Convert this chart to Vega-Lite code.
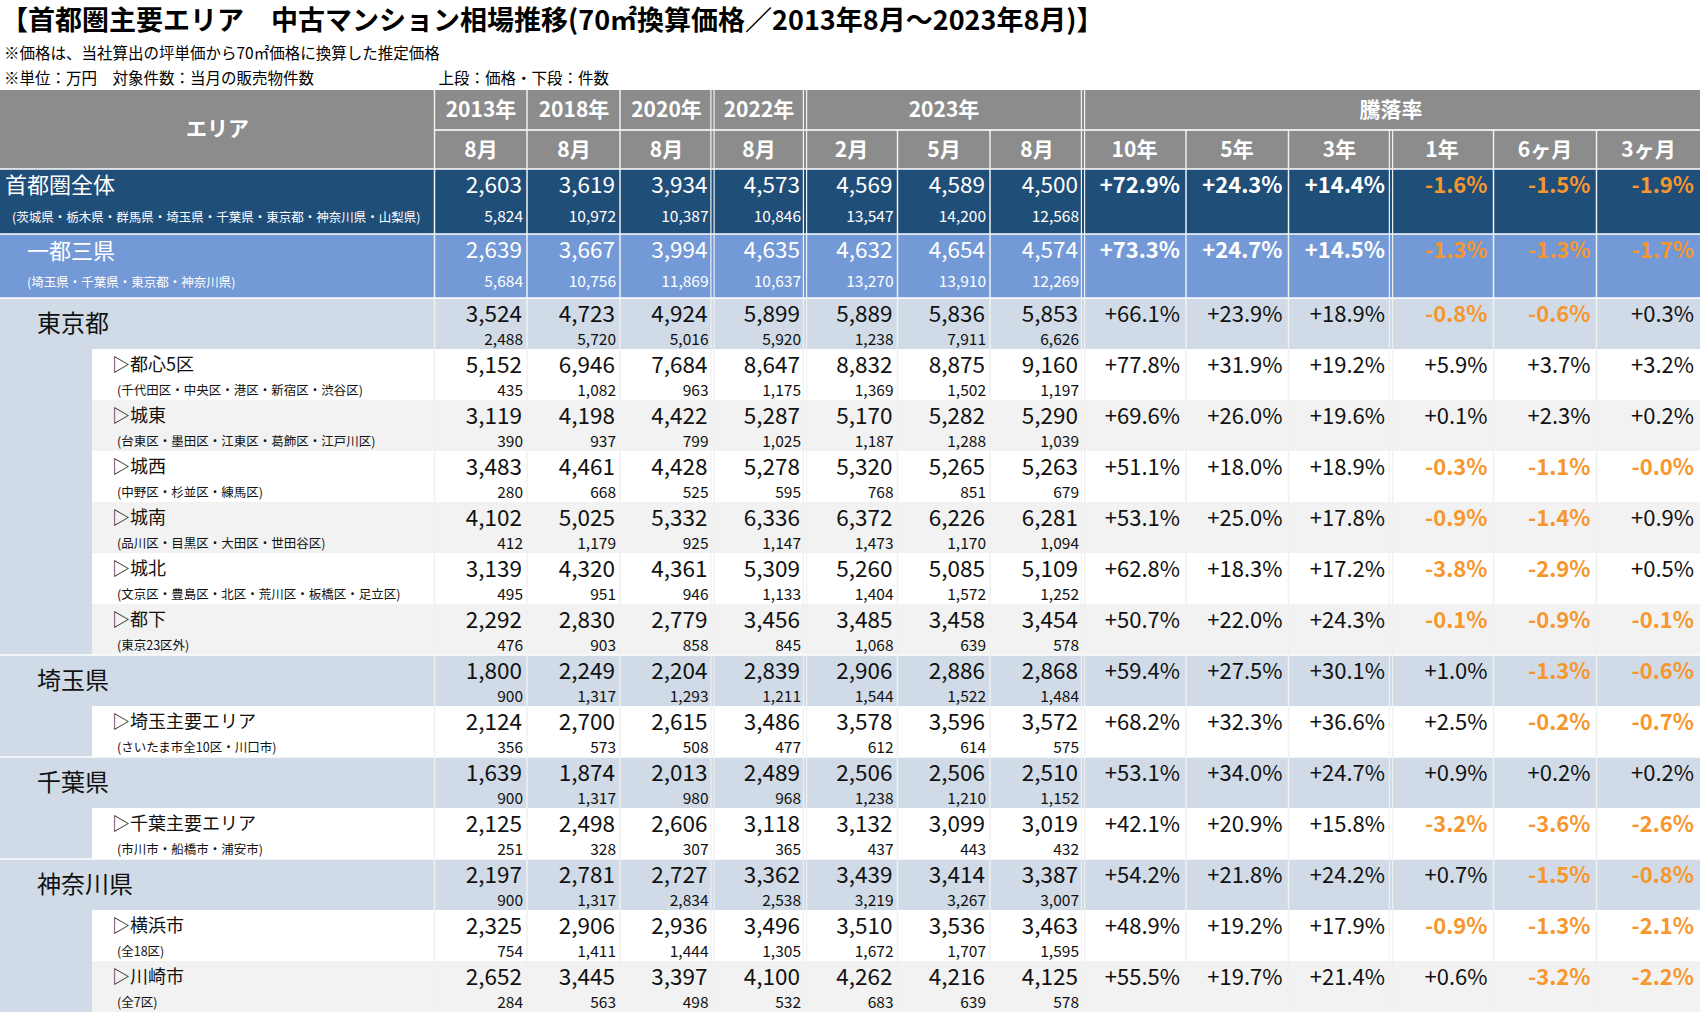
{
  "$schema": "https://vega.github.io/schema/vega-lite/v6.json",
  "width": 1702,
  "height": 1012,
  "autosize": {"type": "none"},
  "padding": 0,
  "background": "#ffffff",
  "config": {
    "view": {"stroke": null},
    "axis": {"disable": true},
    "font": "Noto Sans CJK JP",
    "locale": {"number": {"decimal": ".", "thousands": ",", "grouping": [3], "currency": ["", ""], "minus": "-"}}
  },
  "datasets": {
    "areas": [
      {"area": "首都圏全体", "note": "(茨城県・栃木県・群馬県・埼玉県・千葉県・東京都・神奈川県・山梨県)", "lvl": 0, "r": 0},
      {"area": "一都三県", "note": "(埼玉県・千葉県・東京都・神奈川県)", "lvl": 1, "r": 1},
      {"area": "東京都", "note": "", "lvl": 2, "r": 2},
      {"area": "▷都心5区", "note": "(千代田区・中央区・港区・新宿区・渋谷区)", "lvl": 3, "r": 3},
      {"area": "▷城東", "note": "(台東区・墨田区・江東区・葛飾区・江戸川区)", "lvl": 3, "r": 4},
      {"area": "▷城西", "note": "(中野区・杉並区・練馬区)", "lvl": 3, "r": 5},
      {"area": "▷城南", "note": "(品川区・目黒区・大田区・世田谷区)", "lvl": 3, "r": 6},
      {"area": "▷城北", "note": "(文京区・豊島区・北区・荒川区・板橋区・足立区)", "lvl": 3, "r": 7},
      {"area": "▷都下", "note": "(東京23区外)", "lvl": 3, "r": 8},
      {"area": "埼玉県", "note": "", "lvl": 2, "r": 9},
      {"area": "▷埼玉主要エリア", "note": "(さいたま市全10区・川口市)", "lvl": 3, "r": 10},
      {"area": "千葉県", "note": "", "lvl": 2, "r": 11},
      {"area": "▷千葉主要エリア", "note": "(市川市・船橋市・浦安市)", "lvl": 3, "r": 12},
      {"area": "神奈川県", "note": "", "lvl": 2, "r": 13},
      {"area": "▷横浜市", "note": "(全18区)", "lvl": 3, "r": 14},
      {"area": "▷川崎市", "note": "(全7区)", "lvl": 3, "r": 15}
    ],
    "columns": [
      {"key": "エリア", "c": 0, "group": "エリア", "head": "エリア"},
      {"key": "2013年8月", "c": 1, "group": "2013年", "head": "8月"},
      {"key": "2018年8月", "c": 2, "group": "2018年", "head": "8月"},
      {"key": "2020年8月", "c": 3, "group": "2020年", "head": "8月"},
      {"key": "2022年8月", "c": 4, "group": "2022年", "head": "8月"},
      {"key": "2023年2月", "c": 5, "group": "2023年", "head": "2月"},
      {"key": "2023年5月", "c": 6, "group": "2023年", "head": "5月"},
      {"key": "2023年8月", "c": 7, "group": "2023年", "head": "8月"},
      {"key": "10年", "c": 8, "group": "騰落率", "head": "10年"},
      {"key": "5年", "c": 9, "group": "騰落率", "head": "5年"},
      {"key": "3年", "c": 10, "group": "騰落率", "head": "3年"},
      {"key": "1年", "c": 11, "group": "騰落率", "head": "1年"},
      {"key": "6ヶ月", "c": 12, "group": "騰落率", "head": "6ヶ月"},
      {"key": "3ヶ月", "c": 13, "group": "騰落率", "head": "3ヶ月"}
    ],
    "prices": [
      {"area": "首都圏全体", "2013年8月": 2603, "2018年8月": 3619, "2020年8月": 3934, "2022年8月": 4573, "2023年2月": 4569, "2023年5月": 4589, "2023年8月": 4500},
      {"area": "一都三県", "2013年8月": 2639, "2018年8月": 3667, "2020年8月": 3994, "2022年8月": 4635, "2023年2月": 4632, "2023年5月": 4654, "2023年8月": 4574},
      {"area": "東京都", "2013年8月": 3524, "2018年8月": 4723, "2020年8月": 4924, "2022年8月": 5899, "2023年2月": 5889, "2023年5月": 5836, "2023年8月": 5853},
      {"area": "▷都心5区", "2013年8月": 5152, "2018年8月": 6946, "2020年8月": 7684, "2022年8月": 8647, "2023年2月": 8832, "2023年5月": 8875, "2023年8月": 9160},
      {"area": "▷城東", "2013年8月": 3119, "2018年8月": 4198, "2020年8月": 4422, "2022年8月": 5287, "2023年2月": 5170, "2023年5月": 5282, "2023年8月": 5290},
      {"area": "▷城西", "2013年8月": 3483, "2018年8月": 4461, "2020年8月": 4428, "2022年8月": 5278, "2023年2月": 5320, "2023年5月": 5265, "2023年8月": 5263},
      {"area": "▷城南", "2013年8月": 4102, "2018年8月": 5025, "2020年8月": 5332, "2022年8月": 6336, "2023年2月": 6372, "2023年5月": 6226, "2023年8月": 6281},
      {"area": "▷城北", "2013年8月": 3139, "2018年8月": 4320, "2020年8月": 4361, "2022年8月": 5309, "2023年2月": 5260, "2023年5月": 5085, "2023年8月": 5109},
      {"area": "▷都下", "2013年8月": 2292, "2018年8月": 2830, "2020年8月": 2779, "2022年8月": 3456, "2023年2月": 3485, "2023年5月": 3458, "2023年8月": 3454},
      {"area": "埼玉県", "2013年8月": 1800, "2018年8月": 2249, "2020年8月": 2204, "2022年8月": 2839, "2023年2月": 2906, "2023年5月": 2886, "2023年8月": 2868},
      {"area": "▷埼玉主要エリア", "2013年8月": 2124, "2018年8月": 2700, "2020年8月": 2615, "2022年8月": 3486, "2023年2月": 3578, "2023年5月": 3596, "2023年8月": 3572},
      {"area": "千葉県", "2013年8月": 1639, "2018年8月": 1874, "2020年8月": 2013, "2022年8月": 2489, "2023年2月": 2506, "2023年5月": 2506, "2023年8月": 2510},
      {"area": "▷千葉主要エリア", "2013年8月": 2125, "2018年8月": 2498, "2020年8月": 2606, "2022年8月": 3118, "2023年2月": 3132, "2023年5月": 3099, "2023年8月": 3019},
      {"area": "神奈川県", "2013年8月": 2197, "2018年8月": 2781, "2020年8月": 2727, "2022年8月": 3362, "2023年2月": 3439, "2023年5月": 3414, "2023年8月": 3387},
      {"area": "▷横浜市", "2013年8月": 2325, "2018年8月": 2906, "2020年8月": 2936, "2022年8月": 3496, "2023年2月": 3510, "2023年5月": 3536, "2023年8月": 3463},
      {"area": "▷川崎市", "2013年8月": 2652, "2018年8月": 3445, "2020年8月": 3397, "2022年8月": 4100, "2023年2月": 4262, "2023年5月": 4216, "2023年8月": 4125}
    ],
    "counts": [
      {"area": "首都圏全体", "2013年8月": 5824, "2018年8月": 10972, "2020年8月": 10387, "2022年8月": 10846, "2023年2月": 13547, "2023年5月": 14200, "2023年8月": 12568},
      {"area": "一都三県", "2013年8月": 5684, "2018年8月": 10756, "2020年8月": 11869, "2022年8月": 10637, "2023年2月": 13270, "2023年5月": 13910, "2023年8月": 12269},
      {"area": "東京都", "2013年8月": 2488, "2018年8月": 5720, "2020年8月": 5016, "2022年8月": 5920, "2023年2月": 1238, "2023年5月": 7911, "2023年8月": 6626},
      {"area": "▷都心5区", "2013年8月": 435, "2018年8月": 1082, "2020年8月": 963, "2022年8月": 1175, "2023年2月": 1369, "2023年5月": 1502, "2023年8月": 1197},
      {"area": "▷城東", "2013年8月": 390, "2018年8月": 937, "2020年8月": 799, "2022年8月": 1025, "2023年2月": 1187, "2023年5月": 1288, "2023年8月": 1039},
      {"area": "▷城西", "2013年8月": 280, "2018年8月": 668, "2020年8月": 525, "2022年8月": 595, "2023年2月": 768, "2023年5月": 851, "2023年8月": 679},
      {"area": "▷城南", "2013年8月": 412, "2018年8月": 1179, "2020年8月": 925, "2022年8月": 1147, "2023年2月": 1473, "2023年5月": 1170, "2023年8月": 1094},
      {"area": "▷城北", "2013年8月": 495, "2018年8月": 951, "2020年8月": 946, "2022年8月": 1133, "2023年2月": 1404, "2023年5月": 1572, "2023年8月": 1252},
      {"area": "▷都下", "2013年8月": 476, "2018年8月": 903, "2020年8月": 858, "2022年8月": 845, "2023年2月": 1068, "2023年5月": 639, "2023年8月": 578},
      {"area": "埼玉県", "2013年8月": 900, "2018年8月": 1317, "2020年8月": 1293, "2022年8月": 1211, "2023年2月": 1544, "2023年5月": 1522, "2023年8月": 1484},
      {"area": "▷埼玉主要エリア", "2013年8月": 356, "2018年8月": 573, "2020年8月": 508, "2022年8月": 477, "2023年2月": 612, "2023年5月": 614, "2023年8月": 575},
      {"area": "千葉県", "2013年8月": 900, "2018年8月": 1317, "2020年8月": 980, "2022年8月": 968, "2023年2月": 1238, "2023年5月": 1210, "2023年8月": 1152},
      {"area": "▷千葉主要エリア", "2013年8月": 251, "2018年8月": 328, "2020年8月": 307, "2022年8月": 365, "2023年2月": 437, "2023年5月": 443, "2023年8月": 432},
      {"area": "神奈川県", "2013年8月": 900, "2018年8月": 1317, "2020年8月": 2834, "2022年8月": 2538, "2023年2月": 3219, "2023年5月": 3267, "2023年8月": 3007},
      {"area": "▷横浜市", "2013年8月": 754, "2018年8月": 1411, "2020年8月": 1444, "2022年8月": 1305, "2023年2月": 1672, "2023年5月": 1707, "2023年8月": 1595},
      {"area": "▷川崎市", "2013年8月": 284, "2018年8月": 563, "2020年8月": 498, "2022年8月": 532, "2023年2月": 683, "2023年5月": 639, "2023年8月": 578}
    ],
    "rates": [
      {"area": "首都圏全体", "10年": 0.729, "5年": 0.243, "3年": 0.144, "1年": -0.016, "6ヶ月": -0.015, "3ヶ月": -0.019},
      {"area": "一都三県", "10年": 0.733, "5年": 0.247, "3年": 0.145, "1年": -0.013, "6ヶ月": -0.013, "3ヶ月": -0.017},
      {"area": "東京都", "10年": 0.661, "5年": 0.239, "3年": 0.189, "1年": -0.008, "6ヶ月": -0.006, "3ヶ月": 0.003},
      {"area": "▷都心5区", "10年": 0.778, "5年": 0.319, "3年": 0.192, "1年": 0.059, "6ヶ月": 0.037, "3ヶ月": 0.032},
      {"area": "▷城東", "10年": 0.696, "5年": 0.26, "3年": 0.196, "1年": 0.001, "6ヶ月": 0.023, "3ヶ月": 0.002},
      {"area": "▷城西", "10年": 0.511, "5年": 0.18, "3年": 0.189, "1年": -0.003, "6ヶ月": -0.011, "3ヶ月": -0.0003},
      {"area": "▷城南", "10年": 0.531, "5年": 0.25, "3年": 0.178, "1年": -0.009, "6ヶ月": -0.014, "3ヶ月": 0.009},
      {"area": "▷城北", "10年": 0.628, "5年": 0.183, "3年": 0.172, "1年": -0.038, "6ヶ月": -0.029, "3ヶ月": 0.005},
      {"area": "▷都下", "10年": 0.507, "5年": 0.22, "3年": 0.243, "1年": -0.001, "6ヶ月": -0.009, "3ヶ月": -0.001},
      {"area": "埼玉県", "10年": 0.594, "5年": 0.275, "3年": 0.301, "1年": 0.01, "6ヶ月": -0.013, "3ヶ月": -0.006},
      {"area": "▷埼玉主要エリア", "10年": 0.682, "5年": 0.323, "3年": 0.366, "1年": 0.025, "6ヶ月": -0.002, "3ヶ月": -0.007},
      {"area": "千葉県", "10年": 0.531, "5年": 0.34, "3年": 0.247, "1年": 0.009, "6ヶ月": 0.002, "3ヶ月": 0.002},
      {"area": "▷千葉主要エリア", "10年": 0.421, "5年": 0.209, "3年": 0.158, "1年": -0.032, "6ヶ月": -0.036, "3ヶ月": -0.026},
      {"area": "神奈川県", "10年": 0.542, "5年": 0.218, "3年": 0.242, "1年": 0.007, "6ヶ月": -0.015, "3ヶ月": -0.008},
      {"area": "▷横浜市", "10年": 0.489, "5年": 0.192, "3年": 0.179, "1年": -0.009, "6ヶ月": -0.013, "3ヶ月": -0.021},
      {"area": "▷川崎市", "10年": 0.555, "5年": 0.197, "3年": 0.214, "1年": 0.006, "6ヶ月": -0.032, "3ヶ月": -0.022}
    ]
  },
  "layer": [
    {
      "data": {"values": [{"part": "header"}]},
      "mark": {"type": "rect", "color": "#8c8c8c"},
      "encoding": {
        "x": {"datum": -2, "type": "quantitative", "axis": null, "scale": {"type": "linear", "domain": [-2, -1, 0, 1, 2, 3, 4, 5, 6, 7, 8, 9, 10, 11, 12, 13], "range": [0, 92, 434.5, 527, 620, 712.5, 805, 897.5, 990, 1083, 1186, 1288.5, 1391, 1493.5, 1596.5, 1700], "nice": false, "zero": false}},
        "x2": {"datum": 13},
        "y": {"datum": -2, "type": "quantitative", "axis": null, "scale": {"type": "linear", "domain": [-3, -2, -1, 0, 1, 2, 16], "range": [0, 90, 130, 169, 234, 298, 1012], "nice": false, "zero": false}},
        "y2": {"datum": 0}
      }
    },
    {
      "data": {"name": "areas"},
      "transform": [{"filter": "datum.lvl == 0"}],
      "mark": {"type": "rect", "color": "#1f4e79"},
      "encoding": {"x": {"datum": -2, "type": "quantitative"}, "x2": {"datum": 13}, "y": {"field": "r", "type": "quantitative"}, "y2": {"datum": 1}}
    },
    {
      "data": {"name": "areas"},
      "transform": [{"filter": "datum.lvl == 1"}],
      "mark": {"type": "rect", "color": "#7399d6"},
      "encoding": {"x": {"datum": -2, "type": "quantitative"}, "x2": {"datum": 13}, "y": {"field": "r", "type": "quantitative"}, "y2": {"datum": 2}}
    },
    {
      "data": {"name": "areas"},
      "transform": [{"filter": "datum.lvl >= 2"}],
      "mark": {"type": "rect", "color": "#d0dbe7", "y2Offset": 51},
      "encoding": {"x": {"datum": -2, "type": "quantitative"}, "x2": {"datum": 13}, "y": {"field": "r", "type": "quantitative"}, "y2": {"field": "r"}}
    },
    {
      "data": {"name": "areas"},
      "transform": [{"filter": "datum.lvl == 3"}],
      "mark": {"type": "rect", "y2Offset": 51},
      "encoding": {
        "x": {"datum": -1, "type": "quantitative"}, "x2": {"datum": 13},
        "y": {"field": "r", "type": "quantitative"}, "y2": {"field": "r"},
        "color": {"condition": {"test": "indexof(['▷城東','▷城南','▷都下','▷川崎市'], datum.area) >= 0", "value": "#f2f2f2"}, "value": "#ffffff"}
      }
    },
    {
      "data": {"name": "areas"},
      "transform": [{"filter": "datum.lvl <= 2"}],
      "mark": {"type": "rule", "color": "#ffffff", "strokeWidth": 1.5},
      "encoding": {"x": {"datum": -2, "type": "quantitative"}, "x2": {"datum": 13}, "y": {"field": "r", "type": "quantitative"}}
    },
    {
      "data": {"values": [{"part": "header split"}]},
      "mark": {"type": "rule", "color": "#e6e6e6", "strokeWidth": 2},
      "encoding": {"x": {"datum": 0, "type": "quantitative"}, "x2": {"datum": 13}, "y": {"datum": -1, "type": "quantitative"}}
    },
    {
      "data": {"name": "columns"},
      "transform": [{"filter": "indexof([0,1,2], datum.c) >= 0"}],
      "mark": {"type": "rule", "color": "#f0f0f0", "strokeWidth": 1.5},
      "encoding": {"x": {"field": "c", "type": "quantitative"}, "y": {"datum": -2, "type": "quantitative"}, "y2": {"datum": 16}}
    },
    {
      "data": {"name": "columns"},
      "transform": [{"filter": "indexof([5,6,8,9,11,12], datum.c) >= 0"}],
      "mark": {"type": "rule", "color": "#f0f0f0", "strokeWidth": 1.5},
      "encoding": {"x": {"field": "c", "type": "quantitative"}, "y": {"datum": -1, "type": "quantitative"}, "y2": {"datum": 16}}
    },
    {
      "data": {"name": "columns"},
      "transform": [{"filter": "indexof([3,4,7], datum.c) >= 0"}],
      "mark": {"type": "rule", "color": "#f0f0f0", "strokeWidth": 1.2, "xOffset": -1.6},
      "encoding": {"x": {"field": "c", "type": "quantitative"}, "y": {"datum": -2, "type": "quantitative"}, "y2": {"datum": 16}}
    },
    {
      "data": {"name": "columns"},
      "transform": [{"filter": "indexof([3,4,7], datum.c) >= 0"}],
      "mark": {"type": "rule", "color": "#f0f0f0", "strokeWidth": 1.2, "xOffset": 1.6},
      "encoding": {"x": {"field": "c", "type": "quantitative"}, "y": {"datum": -2, "type": "quantitative"}, "y2": {"datum": 16}}
    },
    {
      "data": {"name": "columns"},
      "transform": [{"filter": "datum.c == 10"}],
      "mark": {"type": "rule", "color": "#f0f0f0", "strokeWidth": 1.2, "xOffset": -1.6},
      "encoding": {"x": {"field": "c", "type": "quantitative"}, "y": {"datum": -1, "type": "quantitative"}, "y2": {"datum": 16}}
    },
    {
      "data": {"name": "columns"},
      "transform": [{"filter": "datum.c == 10"}],
      "mark": {"type": "rule", "color": "#f0f0f0", "strokeWidth": 1.2, "xOffset": 1.6},
      "encoding": {"x": {"field": "c", "type": "quantitative"}, "y": {"datum": -1, "type": "quantitative"}, "y2": {"datum": 16}}
    },
    {
      "data": {"name": "columns"},
      "transform": [{"filter": "datum.c == 0"}],
      "mark": {"type": "text", "align": "center", "baseline": "middle", "dx": -217, "fontSize": 21, "fontWeight": "bold", "fill": "#ffffff"},
      "encoding": {"x": {"field": "c", "type": "quantitative"}, "y": {"datum": -1, "type": "quantitative"}, "text": {"field": "head"}}
    },
    {
      "data": {"name": "columns"},
      "transform": [{"filter": "(datum.c >= 1 && datum.c <= 4) || datum.c == 6"}],
      "mark": {"type": "text", "align": "center", "baseline": "middle", "dx": -46, "dy": 20.5, "fontSize": 21, "fontWeight": "bold", "fill": "#ffffff"},
      "encoding": {"x": {"field": "c", "type": "quantitative"}, "y": {"datum": -2, "type": "quantitative"}, "text": {"field": "group"}}
    },
    {
      "data": {"name": "columns"},
      "transform": [{"filter": "datum.c == 10"}],
      "mark": {"type": "text", "align": "center", "baseline": "middle", "dy": 20.5, "fontSize": 21, "fontWeight": "bold", "fill": "#ffffff"},
      "encoding": {"x": {"field": "c", "type": "quantitative"}, "y": {"datum": -2, "type": "quantitative"}, "text": {"field": "group"}}
    },
    {
      "data": {"name": "columns"},
      "transform": [{"filter": "datum.c >= 1 && datum.c <= 7"}],
      "mark": {"type": "text", "align": "center", "baseline": "middle", "dx": -46, "dy": 20.5, "fontSize": 21, "fontWeight": "bold", "fill": "#ffffff"},
      "encoding": {"x": {"field": "c", "type": "quantitative"}, "y": {"datum": -1, "type": "quantitative"}, "text": {"field": "head"}}
    },
    {
      "data": {"name": "columns"},
      "transform": [{"filter": "datum.c >= 8"}],
      "mark": {"type": "text", "align": "center", "baseline": "middle", "dx": -51.5, "dy": 20.5, "fontSize": 21, "fontWeight": "bold", "fill": "#ffffff"},
      "encoding": {"x": {"field": "c", "type": "quantitative"}, "y": {"datum": -1, "type": "quantitative"}, "text": {"field": "head"}}
    },
    {
      "data": {"name": "prices"},
      "transform": [
        {"fold": ["2013年8月", "2018年8月", "2020年8月", "2022年8月", "2023年2月", "2023年5月", "2023年8月"], "as": ["key", "value"]},
        {"lookup": "key", "from": {"data": {"name": "columns"}, "key": "key", "fields": ["c"]}},
        {"lookup": "area", "from": {"data": {"name": "areas"}, "key": "area", "fields": ["r", "lvl"]}},
        {"filter": "datum.lvl <= 1"}
      ],
      "mark": {"type": "text", "align": "right", "baseline": "middle", "dx": -5, "dy": 17, "fontSize": 22.5, "fill": "#ffffff"},
      "encoding": {"x": {"field": "c", "type": "quantitative"}, "y": {"field": "r", "type": "quantitative"}, "text": {"field": "value", "type": "quantitative", "format": ","}}
    },
    {
      "data": {"name": "prices"},
      "transform": [
        {"fold": ["2013年8月", "2018年8月", "2020年8月", "2022年8月", "2023年2月", "2023年5月", "2023年8月"], "as": ["key", "value"]},
        {"lookup": "key", "from": {"data": {"name": "columns"}, "key": "key", "fields": ["c"]}},
        {"lookup": "area", "from": {"data": {"name": "areas"}, "key": "area", "fields": ["r", "lvl"]}},
        {"filter": "datum.lvl >= 2"}
      ],
      "mark": {"type": "text", "align": "right", "baseline": "middle", "dx": -5, "dy": 17, "fontSize": 22.5, "fill": "#111111"},
      "encoding": {"x": {"field": "c", "type": "quantitative"}, "y": {"field": "r", "type": "quantitative"}, "text": {"field": "value", "type": "quantitative", "format": ","}}
    },
    {
      "data": {"name": "counts"},
      "transform": [
        {"fold": ["2013年8月", "2018年8月", "2020年8月", "2022年8月", "2023年2月", "2023年5月", "2023年8月"], "as": ["key", "value"]},
        {"lookup": "key", "from": {"data": {"name": "columns"}, "key": "key", "fields": ["c"]}},
        {"lookup": "area", "from": {"data": {"name": "areas"}, "key": "area", "fields": ["r", "lvl"]}},
        {"filter": "datum.lvl <= 1"}
      ],
      "mark": {"type": "text", "align": "right", "baseline": "middle", "dx": -4, "dy": 48, "fontSize": 15.5, "fill": "#ffffff"},
      "encoding": {"x": {"field": "c", "type": "quantitative"}, "y": {"field": "r", "type": "quantitative"}, "text": {"field": "value", "type": "quantitative", "format": ","}}
    },
    {
      "data": {"name": "counts"},
      "transform": [
        {"fold": ["2013年8月", "2018年8月", "2020年8月", "2022年8月", "2023年2月", "2023年5月", "2023年8月"], "as": ["key", "value"]},
        {"lookup": "key", "from": {"data": {"name": "columns"}, "key": "key", "fields": ["c"]}},
        {"lookup": "area", "from": {"data": {"name": "areas"}, "key": "area", "fields": ["r", "lvl"]}},
        {"filter": "datum.lvl >= 2"}
      ],
      "mark": {"type": "text", "align": "right", "baseline": "middle", "dx": -4, "dy": 42, "fontSize": 15.5, "fill": "#111111"},
      "encoding": {"x": {"field": "c", "type": "quantitative"}, "y": {"field": "r", "type": "quantitative"}, "text": {"field": "value", "type": "quantitative", "format": ","}}
    },
    {
      "data": {"name": "rates"},
      "transform": [
        {"fold": ["10年", "5年", "3年", "1年", "6ヶ月", "3ヶ月"], "as": ["key", "value"]},
        {"lookup": "key", "from": {"data": {"name": "columns"}, "key": "key", "fields": ["c"]}},
        {"lookup": "area", "from": {"data": {"name": "areas"}, "key": "area", "fields": ["r", "lvl"]}},
        {"filter": "datum.lvl <= 1 && datum.value >= 0"}
      ],
      "mark": {"type": "text", "align": "right", "baseline": "middle", "dx": -6, "dy": 17, "fontSize": 22, "fontWeight": "bold", "fill": "#ffffff"},
      "encoding": {"x": {"field": "c", "type": "quantitative"}, "y": {"field": "r", "type": "quantitative"}, "text": {"field": "value", "type": "quantitative", "format": "+.1%"}}
    },
    {
      "data": {"name": "rates"},
      "transform": [
        {"fold": ["10年", "5年", "3年", "1年", "6ヶ月", "3ヶ月"], "as": ["key", "value"]},
        {"lookup": "key", "from": {"data": {"name": "columns"}, "key": "key", "fields": ["c"]}},
        {"lookup": "area", "from": {"data": {"name": "areas"}, "key": "area", "fields": ["r", "lvl"]}},
        {"filter": "datum.lvl <= 1 && datum.value < 0"}
      ],
      "mark": {"type": "text", "align": "right", "baseline": "middle", "dx": -6, "dy": 17, "fontSize": 22, "fontWeight": "bold", "fill": "#f7962d"},
      "encoding": {"x": {"field": "c", "type": "quantitative"}, "y": {"field": "r", "type": "quantitative"}, "text": {"field": "value", "type": "quantitative", "format": "+.1%"}}
    },
    {
      "data": {"name": "rates"},
      "transform": [
        {"fold": ["10年", "5年", "3年", "1年", "6ヶ月", "3ヶ月"], "as": ["key", "value"]},
        {"lookup": "key", "from": {"data": {"name": "columns"}, "key": "key", "fields": ["c"]}},
        {"lookup": "area", "from": {"data": {"name": "areas"}, "key": "area", "fields": ["r", "lvl"]}},
        {"filter": "datum.lvl >= 2 && datum.value >= 0"}
      ],
      "mark": {"type": "text", "align": "right", "baseline": "middle", "dx": -6, "dy": 17, "fontSize": 22, "fill": "#111111"},
      "encoding": {"x": {"field": "c", "type": "quantitative"}, "y": {"field": "r", "type": "quantitative"}, "text": {"field": "value", "type": "quantitative", "format": "+.1%"}}
    },
    {
      "data": {"name": "rates"},
      "transform": [
        {"fold": ["10年", "5年", "3年", "1年", "6ヶ月", "3ヶ月"], "as": ["key", "value"]},
        {"lookup": "key", "from": {"data": {"name": "columns"}, "key": "key", "fields": ["c"]}},
        {"lookup": "area", "from": {"data": {"name": "areas"}, "key": "area", "fields": ["r", "lvl"]}},
        {"filter": "datum.lvl >= 2 && datum.value < 0"}
      ],
      "mark": {"type": "text", "align": "right", "baseline": "middle", "dx": -6, "dy": 17, "fontSize": 22, "fontWeight": "bold", "fill": "#f7962d"},
      "encoding": {"x": {"field": "c", "type": "quantitative"}, "y": {"field": "r", "type": "quantitative"}, "text": {"field": "value", "type": "quantitative", "format": "+.1%"}}
    },
    {
      "data": {"name": "areas"},
      "transform": [{"filter": "datum.lvl == 0"}],
      "mark": {"type": "text", "align": "left", "baseline": "middle", "dx": 5, "dy": 17, "fontSize": 22, "fill": "#ffffff"},
      "encoding": {"x": {"datum": -2, "type": "quantitative"}, "y": {"field": "r", "type": "quantitative"}, "text": {"field": "area"}}
    },
    {
      "data": {"name": "areas"},
      "transform": [{"filter": "datum.lvl == 1"}],
      "mark": {"type": "text", "align": "left", "baseline": "middle", "dx": 27, "dy": 17.5, "fontSize": 22, "fill": "#ffffff"},
      "encoding": {"x": {"datum": -2, "type": "quantitative"}, "y": {"field": "r", "type": "quantitative"}, "text": {"field": "area"}}
    },
    {
      "data": {"name": "areas"},
      "transform": [{"filter": "datum.lvl == 2"}],
      "mark": {"type": "text", "align": "left", "baseline": "middle", "dx": 37, "dy": 27, "fontSize": 24, "fill": "#111111"},
      "encoding": {"x": {"datum": -2, "type": "quantitative"}, "y": {"field": "r", "type": "quantitative"}, "text": {"field": "area"}}
    },
    {
      "data": {"name": "areas"},
      "transform": [{"filter": "datum.lvl == 3"}],
      "mark": {"type": "text", "align": "left", "baseline": "middle", "dx": 20, "dy": 17, "fontSize": 18, "fill": "#111111"},
      "encoding": {"x": {"datum": -1, "type": "quantitative"}, "y": {"field": "r", "type": "quantitative"}, "text": {"field": "area"}}
    },
    {
      "data": {"name": "areas"},
      "transform": [{"filter": "datum.lvl == 0"}],
      "mark": {"type": "text", "align": "left", "baseline": "middle", "dx": 12, "dy": 48.5, "fontSize": 12.5, "fill": "#ffffff"},
      "encoding": {"x": {"datum": -2, "type": "quantitative"}, "y": {"field": "r", "type": "quantitative"}, "text": {"field": "note"}}
    },
    {
      "data": {"name": "areas"},
      "transform": [{"filter": "datum.lvl == 1"}],
      "mark": {"type": "text", "align": "left", "baseline": "middle", "dx": 27, "dy": 48.5, "fontSize": 12.5, "fill": "#ffffff"},
      "encoding": {"x": {"datum": -2, "type": "quantitative"}, "y": {"field": "r", "type": "quantitative"}, "text": {"field": "note"}}
    },
    {
      "data": {"name": "areas"},
      "transform": [{"filter": "datum.lvl == 3"}],
      "mark": {"type": "text", "align": "left", "baseline": "middle", "dx": 25, "dy": 41.5, "fontSize": 12.5, "fill": "#111111"},
      "encoding": {"x": {"datum": -1, "type": "quantitative"}, "y": {"field": "r", "type": "quantitative"}, "text": {"field": "note"}}
    },
    {
      "data": {"values": [{"text": "【首都圏主要エリア　中古マンション相場推移(70㎡換算価格／2013年8月～2023年8月)】"}]},
      "mark": {"type": "text", "align": "left", "baseline": "middle", "dx": 1, "dy": 21.5, "fontSize": 27, "fontWeight": "bold", "fill": "#000000"},
      "encoding": {"x": {"datum": -2, "type": "quantitative"}, "y": {"datum": -3, "type": "quantitative"}, "text": {"field": "text"}}
    },
    {
      "data": {"values": [{"text": "※価格は、当社算出の坪単価から70㎡価格に換算した推定価格"}]},
      "mark": {"type": "text", "align": "left", "baseline": "middle", "dx": 4, "dy": 54, "fontSize": 15.5, "fill": "#000000"},
      "encoding": {"x": {"datum": -2, "type": "quantitative"}, "y": {"datum": -3, "type": "quantitative"}, "text": {"field": "text"}}
    },
    {
      "data": {"values": [{"text": "※単位：万円　対象件数：当月の販売物件数"}]},
      "mark": {"type": "text", "align": "left", "baseline": "middle", "dx": 4, "dy": 79, "fontSize": 15.5, "fill": "#000000"},
      "encoding": {"x": {"datum": -2, "type": "quantitative"}, "y": {"datum": -3, "type": "quantitative"}, "text": {"field": "text"}}
    },
    {
      "data": {"values": [{"text": "上段：価格・下段：件数"}]},
      "mark": {"type": "text", "align": "left", "baseline": "middle", "dx": 4, "dy": 79, "fontSize": 15.5, "fill": "#000000"},
      "encoding": {"x": {"datum": 0, "type": "quantitative"}, "y": {"datum": -3, "type": "quantitative"}, "text": {"field": "text"}}
    }
  ]
}
